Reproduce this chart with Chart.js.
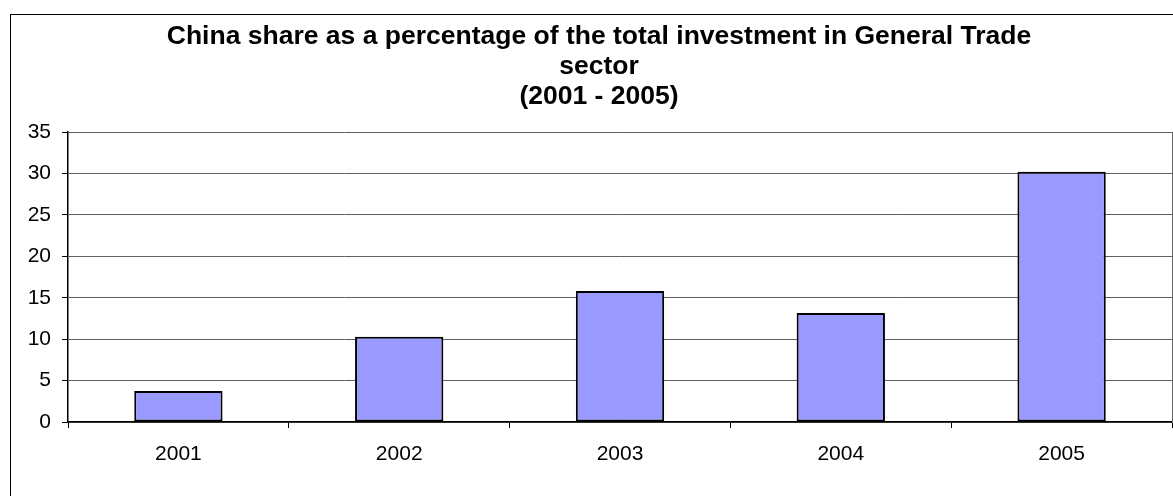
<!DOCTYPE html>
<html>
<head>
<meta charset="utf-8">
<script src="https://cdn.jsdelivr.net/npm/chart.js@4.4.0/dist/chart.umd.min.js"></script>
<style>
    html, body { margin: 0; padding: 0; background: #fff; }
    #wrap { position: relative; width: 1173px; height: 496px; overflow: hidden; }
    #frame { position: absolute; left: 10px; top: 14px; width: 1400px; height: 700px; border: 1px solid #000; }
    #box { position: absolute; left: 0; top: 0; width: 1173px; height: 496px; }
</style>
</head>
<body>
<div id="wrap">
    <div id="frame"></div>
    <div id="box"><canvas id="shareChart"></canvas></div>
</div>
<script>
// Chart data
const years = ['2001', '2002', '2003', '2004', '2005'];
const chinaShare = [3.75, 10.3, 15.8, 13.15, 30.2];
const titleLines = [
    'China share as a percentage of the total investment in General Trade',
    'sector',
    '(2001 - 2005)'
];
const yMin = 0;
const yMax = 35;
const yStep = 5;

const FONT = 'Arial, "Liberation Sans", sans-serif';

function initChart() {
    const ctx = document.getElementById('shareChart').getContext('2d');
    return new Chart(ctx, {
        type: 'bar',
        data: {
            labels: years,
            datasets: [{
                label: 'China share',
                data: chinaShare,
                backgroundColor: '#9999FF',
                borderColor: '#000000',
                borderWidth: 2,
                borderSkipped: false,
                barPercentage: 0.4,
                categoryPercentage: 1.0
            }]
        },
        options: {
            responsive: true,
            maintainAspectRatio: false,
            animation: false,
            layout: {
                padding: { left: 26, right: 1, top: 0, bottom: 0 }
            },
            scales: {
                x: {
                    grid: {
                        offset: true,
                        drawOnChartArea: false,
                        drawTicks: true,
                        tickLength: 6,
                        color: '#000'
                    },
                    border: { display: true, color: '#000', width: 1.5 },
                    ticks: {
                        color: '#000',
                        padding: 14,
                        font: { family: FONT, size: 21 }
                    },
                    afterFit: scale => { scale.height = 74; }
                },
                y: {
                    min: yMin,
                    max: yMax,
                    grid: {
                        color: '#5f5f5f',
                        tickColor: '#000',
                        tickLength: 6
                    },
                    border: { display: true, color: '#000', width: 1.5 },
                    ticks: {
                        stepSize: yStep,
                        color: '#000',
                        padding: 11,
                        font: { family: FONT, size: 21 }
                    },
                    afterFit: scale => { scale.width = 42; }
                },
                yRight: {
                    position: 'right',
                    min: yMin,
                    max: yMax,
                    grid: { display: false },
                    border: { display: true, color: '#666', width: 1 },
                    ticks: { display: false },
                    afterFit: scale => { scale.width = 0; }
                }
            },
            plugins: {
                legend: { display: false },
                tooltip: { enabled: false },
                title: {
                    display: true,
                    text: titleLines,
                    color: '#000',
                    font: { family: FONT, size: 26.5, weight: 'bold', lineHeight: 30 / 26.5 },
                    padding: { top: 22, bottom: 20 }
                }
            }
        }
    });
}

document.addEventListener('DOMContentLoaded', () => {
    initChart();
});
</script>
</body>
</html>
